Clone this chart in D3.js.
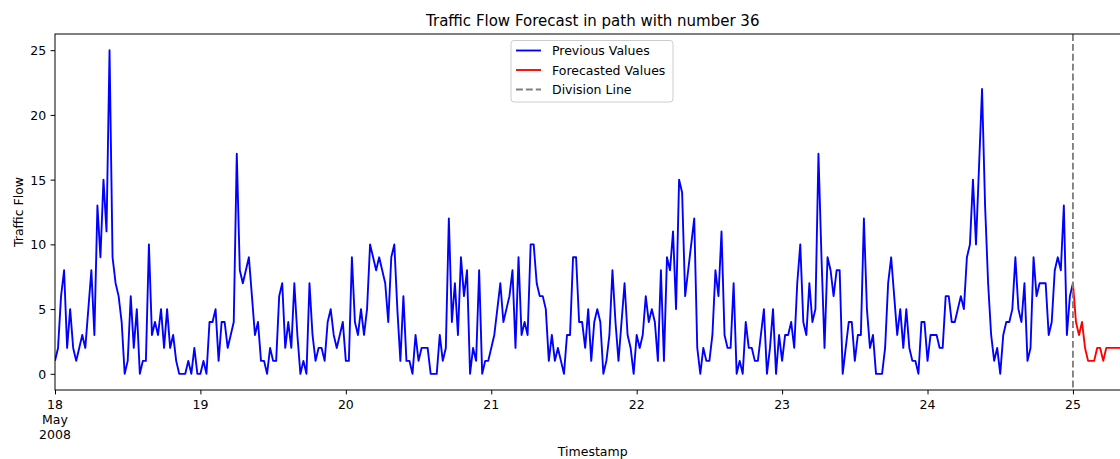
<!DOCTYPE html>
<html>
<head>
<meta charset="utf-8">
<script src="https://cdn.jsdelivr.net/npm/d3@7"></script>
<style>
  html, body { margin: 0; padding: 0; background: #fff; }
  svg { display: block; font-family: "DejaVu Sans", sans-serif; }
</style>
</head>
<body>
<svg id="chart" width="1120" height="459"></svg>
<script>
// ---- data (30-minute intervals starting 2008-05-18 00:00) ----
const startTime = "2008-05-18T00:00:00Z";
const stepMinutes = 30;
const previousValues = [
  // 18 May
  1,2,6,8,2,5,2,1,2,3,2,5,8,3,13,9,15,11,25,9,7,6,4,0,1,6,2,5,0,1,1,10,3,4,3,5,2,5,2,3,1,0,0,0,1,0,2,0,
  // 19 May
  0,1,0,4,4,5,1,4,4,2,3,4,17,8,7,8,9,6,3,4,1,1,0,2,1,1,6,7,2,4,2,7,3,0,1,0,7,3,1,2,2,1,4,5,3,2,3,4,
  // 20 May
  1,1,9,4,3,5,3,5,10,9,8,9,8,7,4,9,10,5,1,6,1,1,0,3,1,2,2,2,0,0,0,3,1,2,12,4,7,3,9,6,8,0,2,1,8,0,1,1,
  // 21 May
  2,3,5,7,4,5,6,8,2,9,3,4,3,10,10,7,6,6,5,1,3,1,2,1,0,3,3,9,9,4,4,2,5,1,4,5,4,0,1,3,8,4,1,4,7,3,2,0,
  // 22 May
  3,2,3,6,4,5,4,1,8,1,9,8,11,5,15,14,6,8,10,12,2,0,2,1,1,3,8,6,11,3,2,2,7,0,1,0,4,2,2,1,1,3,5,0,2,5,0,3,
  // 23 May
  1,3,3,4,2,7,10,4,3,7,4,5,17,9,2,9,8,6,8,8,0,2,4,4,1,3,3,12,5,2,3,0,0,0,2,7,9,6,3,5,2,5,2,1,1,0,4,4,
  // 24 May
  1,3,3,3,2,2,6,6,4,4,5,6,5,9,10,15,10,16,22,13,7,3,1,2,0,3,4,4,5,9,5,4,7,1,2,9,6,7,7,7,3,4,8,9,8,13,3,6,
  // 25 May 00:00
  7
];
const forecastStartIndex = 336;
const forecastValues = [7,4,3,4,2,1,1,1,2,2,1,2,2,2,2,2,2,2,2,2];
const yTicks = [0,5,10,15,20,25];
const legendLabels = ["Previous Values","Forecasted Values","Division Line"];
const titleText = "Traffic Flow Forecast in path with number 36";
const xLabelText = "Timestamp";
const yLabelText = "Traffic Flow";

// ---- build series ----
const t0 = new Date(startTime).getTime();
const toDate = i => new Date(t0 + i * stepMinutes * 60000);
const prevSeries = previousValues.map((v, i) => ({ t: toDate(i), v }));
const fcSeries = forecastValues.map((v, i) => ({ t: toDate(forecastStartIndex + i), v }));
const divisionTime = toDate(forecastStartIndex);

// ---- layout ----
const L = 55, R = 1130.5, T = 34, B = 390;
const svg = d3.select("#chart");

const x = d3.scaleUtc()
  .domain([prevSeries[0].t, fcSeries[fcSeries.length - 1].t])
  .range([L, R]);
const y = d3.scaleLinear().domain([-1.25, 26.25]).range([B, T]);

const fontSize = 12.5;

// clip for plot area
svg.append("defs").append("clipPath").attr("id", "clip")
  .append("rect").attr("x", L).attr("y", T).attr("width", R - L).attr("height", B - T);

const plot = svg.append("g").attr("clip-path", "url(#clip)");

const line = d3.line().x(d => x(d.t)).y(d => y(d.v));

plot.append("path").datum(prevSeries)
  .attr("d", line).attr("fill", "none").attr("stroke", "#0000ff")
  .attr("stroke-width", 1.875).attr("stroke-linejoin", "round").attr("stroke-linecap", "butt");

plot.append("path").datum(fcSeries)
  .attr("d", line).attr("fill", "none").attr("stroke", "#ff0000")
  .attr("stroke-width", 1.875).attr("stroke-linejoin", "round").attr("stroke-linecap", "butt");

plot.append("line")
  .attr("x1", x(divisionTime)).attr("x2", x(divisionTime))
  .attr("y1", T).attr("y2", B)
  .attr("stroke", "#808080").attr("stroke-width", 1.875)
  .attr("stroke-dasharray", "6.9,3");

// ---- axes ----
const dayTicks = d3.utcDay.range(new Date(Date.UTC(2008,4,18)), new Date(Date.UTC(2008,4,26)))
  .filter(d => x(d) >= L - 0.5 && x(d) <= R + 0.5);

const xAxis = d3.axisBottom(x).tickValues(dayTicks).tickSize(4.4).tickPadding(4.4).tickFormat("");
const gx = svg.append("g").attr("transform", `translate(0,${B})`).call(xAxis);
gx.select(".domain").remove();
gx.selectAll(".tick line").attr("stroke", "#000").attr("stroke-width", 1);

const labels = svg.append("g").attr("font-size", fontSize).attr("fill", "#000");
dayTicks.forEach((d, i) => {
  const lines = i === 0 ? [d3.utcFormat("%-d")(d), d3.utcFormat("%B")(d), d3.utcFormat("%Y")(d)]
                        : [d3.utcFormat("%-d")(d)];
  const tx = labels.append("text").attr("x", x(d)).attr("y", 408.5).attr("text-anchor", "middle");
  lines.forEach((s, k) => {
    tx.append("tspan").attr("x", x(d)).attr("dy", k === 0 ? 0 : 15).text(s);
  });
});

const yAxis = d3.axisLeft(y).tickValues(yTicks).tickSize(4.4).tickPadding(4.4).tickFormat(d3.format("d"));
const gy = svg.append("g").attr("transform", `translate(${L},0)`).call(yAxis);
gy.select(".domain").remove();
gy.selectAll(".tick line").attr("stroke", "#000").attr("stroke-width", 1);
gy.selectAll(".tick text").attr("font-size", fontSize).attr("font-family", "DejaVu Sans")
  .attr("fill", "#000").attr("dy", null).attr("y", 4.5);

// spines
svg.append("rect").attr("x", L).attr("y", T).attr("width", R - L).attr("height", B - T)
  .attr("fill", "none").attr("stroke", "#000").attr("stroke-width", 1);

// ---- titles ----
svg.append("text").attr("x", (L + R) / 2).attr("y", 26).attr("text-anchor", "middle")
  .attr("font-size", 15).attr("fill", "#000").text(titleText);
svg.append("text").attr("x", (L + R) / 2).attr("y", 456).attr("text-anchor", "middle")
  .attr("font-size", fontSize).attr("fill", "#000").text(xLabelText);
svg.append("text").attr("transform", `translate(22.5,${(T + B) / 2}) rotate(-90)`)
  .attr("text-anchor", "middle").attr("font-size", fontSize).attr("fill", "#000").text(yLabelText);

// ---- legend ----
const lg = svg.append("g");
lg.append("rect").attr("x", 511).attr("y", 40.5).attr("width", 162).attr("height", 61.5)
  .attr("rx", 3).attr("fill", "#fff").attr("fill-opacity", 0.8)
  .attr("stroke", "#cccccc").attr("stroke-width", 1);
const legendStyles = [
  { color: "#0000ff", dash: null },
  { color: "#ff0000", dash: null },
  { color: "#808080", dash: "6.9,3" }
];
legendLabels.forEach((lab, i) => {
  const cy = 50.5 + i * 19.5;
  lg.append("line").attr("x1", 516).attr("x2", 541).attr("y1", cy).attr("y2", cy)
    .attr("stroke", legendStyles[i].color).attr("stroke-width", 1.875)
    .attr("stroke-dasharray", legendStyles[i].dash);
  lg.append("text").attr("x", 552).attr("y", cy + 4.5).attr("font-size", fontSize)
    .attr("fill", "#000").text(lab);
});
</script>
</body>
</html>
